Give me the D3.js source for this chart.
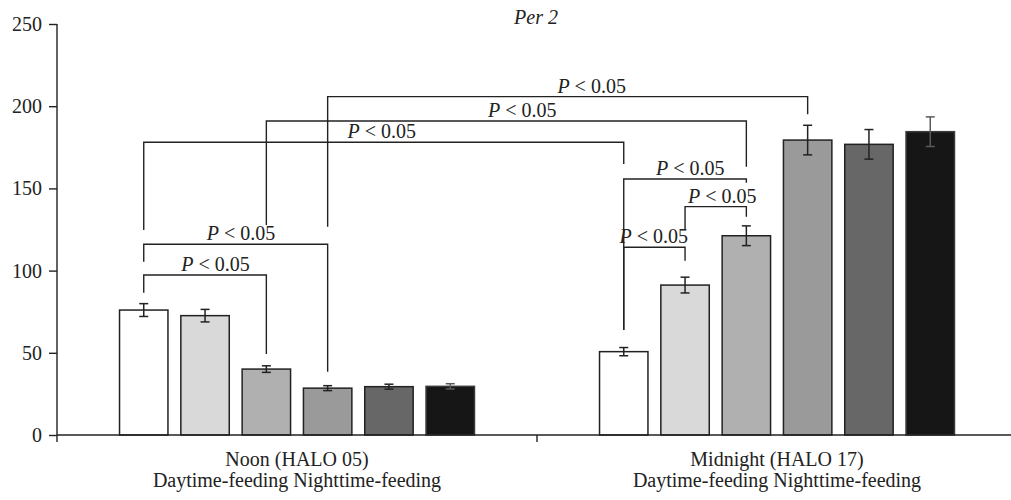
<!DOCTYPE html>
<html>
<head>
<meta charset="utf-8">
<script src="https://cdn.jsdelivr.net/npm/d3@7"></script>
<style>
  html, body { margin: 0; padding: 0; background: #fff; }
  svg { display: block; font-family: "Liberation Serif", "Times New Roman", serif; }
</style>
</head>
<body>
<svg id="chart" width="1011" height="500"></svg>
<script>
// Per2 expression at noon and midnight, six feeding conditions per time point
const groups = ["Noon (HALO 05)", "Midnight (HALO 17)"];
const groupSubLabel = "Daytime-feeding Nighttime-feeding";
const seriesKeys = ["c1", "c2", "c3", "c4", "c5", "c6"];
const seriesColors = ["#ffffff", "#d9d9d9", "#b0b0b0", "#9a9a9a", "#676767", "#161616"];

const noonMeans = [76.0, 72.6, 40.1, 28.5, 29.4, 29.6];
const noonErrors = [3.9, 3.8, 2.0, 1.5, 1.5, 1.6];
const midnightMeans = [50.7, 91.2, 121.2, 179.4, 176.8, 184.5];
const midnightErrors = [2.5, 4.8, 6.0, 9.0, 9.0, 9.0];

const yTicks = [0, 50, 100, 150, 200, 250];
const title = "Per 2";

// Significance brackets: [group, series] endpoints, bar height of the bridge,
// where each leg stops, and where along the bridge the label sits
const bracketFrom = [[0, 0], [0, 0], [0, 0], [0, 2], [0, 3], [1, 0], [1, 1], [1, 0]];
const bracketTo   = [[0, 2], [0, 3], [1, 0], [1, 2], [1, 3], [1, 2], [1, 2], [1, 1]];
const bracketLevel = [97.3, 116.0, 178.1, 191.0, 205.8, 155.7, 138.9, 114.2];
const bracketLeftEnd = [86.6, 105.4, 124.7, 127.7, 126.7, 63.9, 124.7, 63.9];
const bracketRightEnd = [49.3, 38.5, 164.8, 163.2, 195.1, 153.5, 132.8, 106.0];
const bracketLabelAt = [0.586, 0.529, 0.496, 0.533, 0.55, 0.543, 0.607, 0.49];

const svg = d3.select("#chart");
const ink = "#222";

const x0 = d3.scaleBand().domain(groups).range([57, 1017]).padding(0);
const x1 = d3.scaleBand().domain(seriesKeys).range([0, x0.bandwidth()])
  .paddingInner(0.21).paddingOuter(1.02);
const y = d3.scaleLinear().domain([0, 250]).range([435, 24]);

const means = [noonMeans, midnightMeans];
const errors = [noonErrors, midnightErrors];

const barCenter = (g, i) => x0(groups[g]) + x1(seriesKeys[i]) + x1.bandwidth() / 2;

// Bars
const barData = [];
groups.forEach((g, gi) => seriesKeys.forEach((s, si) => {
  barData.push({ g: gi, s: si, v: means[gi][si], e: errors[gi][si] });
}));

svg.append("g").selectAll("rect").data(barData).join("rect")
  .attr("x", d => x0(groups[d.g]) + x1(seriesKeys[d.s]))
  .attr("y", d => y(d.v))
  .attr("width", x1.bandwidth())
  .attr("height", d => y(0) - y(d.v))
  .attr("fill", d => seriesColors[d.s])
  .attr("stroke", d => d.s === 5 ? "#3a3a3a" : ink)
  .attr("stroke-width", 1.5);

// Error bars
const eb = svg.append("g").selectAll("g").data(barData).join("g")
  .attr("stroke", d => d.s === 5 ? "#5a5a5a" : ink)
  .attr("stroke-width", 1.5);
eb.append("line")
  .attr("x1", d => barCenter(d.g, d.s)).attr("x2", d => barCenter(d.g, d.s))
  .attr("y1", d => y(d.v + d.e)).attr("y2", d => y(d.v - d.e));
eb.append("line")
  .attr("x1", d => barCenter(d.g, d.s) - 4.5).attr("x2", d => barCenter(d.g, d.s) + 4.5)
  .attr("y1", d => y(d.v + d.e)).attr("y2", d => y(d.v + d.e));
eb.append("line")
  .attr("x1", d => barCenter(d.g, d.s) - 4.5).attr("x2", d => barCenter(d.g, d.s) + 4.5)
  .attr("y1", d => y(d.v - d.e)).attr("y2", d => y(d.v - d.e));

// Y axis
const yAxis = svg.append("g").attr("transform", "translate(57,0)")
  .call(d3.axisLeft(y).tickValues(yTicks).tickSize(8).tickPadding(7).tickFormat(d3.format("d")));
yAxis.select(".domain").attr("stroke", ink).attr("stroke-width", 1.4).attr("d", "M0,24V435");
yAxis.selectAll(".tick line").attr("stroke", ink).attr("stroke-width", 1.4);
yAxis.selectAll(".tick text").attr("fill", ink).attr("font-size", 20)
  .attr("font-family", "Liberation Serif, serif");

// X axis: baseline with ticks at group boundaries
const xBounds = [x0(groups[0]), x0(groups[1]), x0(groups[1]) + x0.bandwidth()];
svg.append("line").attr("x1", xBounds[0]).attr("x2", xBounds[2])
  .attr("y1", y(0)).attr("y2", y(0)).attr("stroke", ink).attr("stroke-width", 1.4);
svg.append("g").selectAll("line").data(xBounds).join("line")
  .attr("x1", d => d).attr("x2", d => d)
  .attr("y1", y(0)).attr("y2", y(0) + 7)
  .attr("stroke", ink).attr("stroke-width", 1.4);

// Group labels
const gl = svg.append("g").attr("fill", ink).attr("font-size", 20).attr("text-anchor", "middle");
gl.selectAll("text.g").data(groups).join("text").attr("class", "g")
  .attr("x", d => x0(d) + x0.bandwidth() / 2).attr("y", 466).text(d => d);
gl.selectAll("text.s").data(groups).join("text").attr("class", "s")
  .attr("x", d => x0(d) + x0.bandwidth() / 2).attr("y", 487).text(groupSubLabel);

// Title
svg.append("text").attr("x", 536).attr("y", 24).attr("text-anchor", "middle")
  .attr("font-size", 20).attr("font-style", "italic").attr("fill", ink).text(title);

// Significance brackets
const br = svg.append("g");
bracketFrom.forEach((f, k) => {
  const t = bracketTo[k];
  const xa = barCenter(f[0], f[1]);
  const xb = barCenter(t[0], t[1]);
  const yl = y(bracketLevel[k]);
  br.append("path")
    .attr("d", `M${xa},${y(bracketLeftEnd[k])}V${yl}H${xb}V${y(bracketRightEnd[k])}`)
    .attr("fill", "none").attr("stroke", ink).attr("stroke-width", 1.4);
  const lx = xa + (xb - xa) * bracketLabelAt[k];
  const txt = br.append("text").attr("x", lx).attr("y", yl - 4)
    .attr("text-anchor", "middle").attr("font-size", 20).attr("fill", ink);
  txt.append("tspan").attr("font-style", "italic").text("P");
  txt.append("tspan").text(" < 0.05");
});
</script>
</body>
</html>
